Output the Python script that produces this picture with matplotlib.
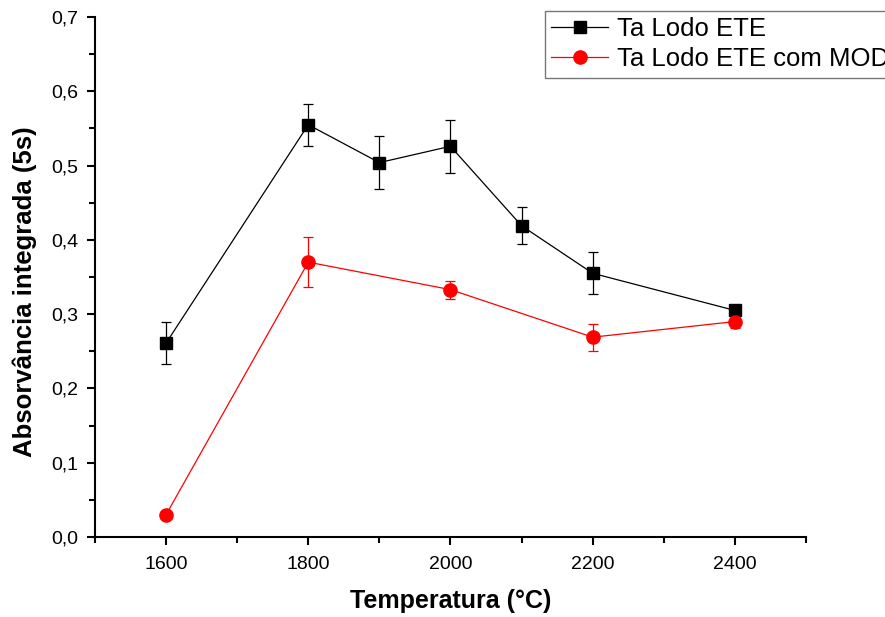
import numpy as np
import matplotlib
matplotlib.use("Agg")
import matplotlib.pyplot as plt
from matplotlib.ticker import MultipleLocator, FuncFormatter

plt.rcParams['font.family'] = ['Liberation Sans', 'DejaVu Sans']

# temperatura de pirólise / atomização
temp_ete = [1600, 1800, 1900, 2000, 2100, 2200, 2400]
abs_ete = [0.261, 0.555, 0.504, 0.526, 0.419, 0.355, 0.305]
err_ete = [0.028, 0.028, 0.036, 0.036, 0.025, 0.028, 0.005]

temp_mod = [1600, 1800, 2000, 2200, 2400]
abs_mod = [0.030, 0.370, 0.333, 0.269, 0.290]
err_mod = [0.0, 0.034, 0.012, 0.018, 0.009]

fig = plt.figure(figsize=(8.85, 6.17), dpi=100)
ax = fig.add_axes([0.1073, 0.1297, 0.8034, 0.8427])

ax.errorbar(temp_ete, abs_ete, yerr=err_ete, color='black', lw=0.9,
            marker='s', ms=8, capsize=3.7, elinewidth=0.9, capthick=0.9,
            label='Ta Lodo ETE')
ax.errorbar(temp_mod, abs_mod, yerr=err_mod, color='red', lw=0.9,
            marker='o', ms=9.5, capsize=3.7, elinewidth=0.9, capthick=0.9,
            label='Ta Lodo ETE com MOD')

ax.set_xlim(1500, 2500)
ax.set_ylim(0, 0.7)
ax.xaxis.set_major_locator(MultipleLocator(200))
ax.xaxis.set_minor_locator(MultipleLocator(100))
ax.yaxis.set_major_locator(MultipleLocator(0.1))
ax.yaxis.set_minor_locator(MultipleLocator(0.05))
ax.yaxis.set_major_formatter(FuncFormatter(lambda v, p: f"{v:.1f}".replace('.', ',')))

ax.spines['top'].set_visible(False)
ax.spines['right'].set_visible(False)
ax.spines['left'].set_linewidth(1.5)
ax.spines['bottom'].set_linewidth(1.5)
ax.tick_params(which='major', direction='out', length=6, width=1.5, labelsize=14)
ax.tick_params(which='minor', direction='out', length=4, width=1.5)
ax.tick_params(axis='x', which='major', pad=8)
ax.tick_params(axis='y', which='major', pad=6)

ax.set_xlabel('Temperatura (°C)', fontsize=18, fontweight='bold', labelpad=11)
ax.set_ylabel('Absorvância integrada (5s)', fontsize=18.5, fontweight='bold', labelpad=10)
ax.yaxis.label.set_y(0.472)

# sem barras de erro na legenda
handles, labels = ax.get_legend_handles_labels()
handles = [h[0] for h in handles]
leg = fig.legend(handles, labels, loc='upper left', bbox_to_anchor=(545 / 885, 1 - 11 / 617),
                 fontsize=18.5, frameon=True, fancybox=False, edgecolor='#555555',
                 handlelength=2.2, handletextpad=0.35, borderpad=0.25, labelspacing=0.22,
                 borderaxespad=0)
leg.get_frame().set_linewidth(1.0)

fig.savefig('out.png', dpi=100)
